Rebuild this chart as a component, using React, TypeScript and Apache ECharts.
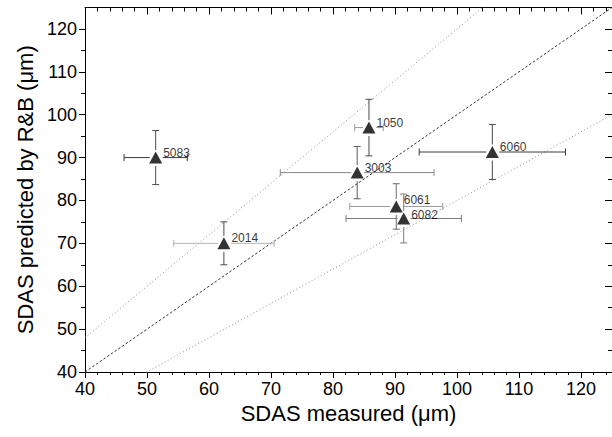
import React, { useEffect, useRef } from "react";
import * as echarts from "echarts";

// Alloy designations and SDAS values (μm)
const alloys = ["5083", "2014", "1050", "3003", "6061", "6082", "6060"];
const measured = [51.4, 62.4, 85.8, 83.9, 90.2, 91.4, 105.7];
const predicted = [90.0, 70.0, 97.0, 86.5, 78.6, 75.8, 91.3];
const measuredErr = [5.1, 8.1, 2.3, 12.4, 7.5, 9.3, 11.8];
const predictedErr = [6.3, 5.0, 6.6, 6.1, 5.3, 5.7, 6.4];

// Reference lines y = k·x
const refSlopes = [1.2, 1.0, 0.8];

// Axis ticks
const axisMin = 40;
const axisMax = 125;
const majorTicks = [40, 50, 60, 70, 80, 90, 100, 110, 120];
const xMinorTicks: number[] = [];
for (let v = 42; v < axisMax; v += 2) if (v % 10 !== 0) xMinorTicks.push(v);
const yMinorTicks = [45, 55, 65, 75, 85, 95, 105, 115];

// Error bar colours per alloy
const hBarColor: Record<string, string> = {
  "5083": "#3a3a3a",
  "2014": "#b4b4b4",
  "1050": "#9a9a9a",
  "3003": "#8a8a8a",
  "6061": "#9a9a9a",
  "6082": "#7a7a7a",
  "6060": "#3a3a3a",
};
const vBarColor: Record<string, string> = {
  "5083": "#4a4a4a",
  "2014": "#4a4a4a",
  "1050": "#4a4a4a",
  "3003": "#5a5a5a",
  "6061": "#6a6a6a",
  "6082": "#7a7a7a",
  "6060": "#4a4a4a",
};

// Label nudges for the two crowded points
const labelOffset: Record<string, number[]> = {
  "6061": [0, -6.5],
  "6082": [0, -3.5],
};

const FONT = "Arial, 'Liberation Sans', sans-serif";

export default function App() {
  const ref = useRef<HTMLDivElement>(null);

  useEffect(() => {
    if (!ref.current) return;
    const chart = echarts.init(ref.current, undefined, { renderer: "svg" });

    const baseAxis = {
      min: axisMin,
      max: axisMax,
      splitLine: { show: false },
      minorTick: { show: false },
      minorSplitLine: { show: false },
    };
    const lineStyle = { color: "#000", width: 1 };

    const xAxes = [
      {
        ...baseAxis,
        type: "value",
        position: "bottom",
        name: "SDAS measured (μm)",
        nameLocation: "middle",
        nameGap: 28,
        nameTextStyle: { fontFamily: FONT, fontSize: 22, color: "#000" },
        axisLine: { show: true, lineStyle },
        axisTick: { show: true, inside: false, length: 6, customValues: majorTicks, lineStyle },
        axisLabel: { show: true, margin: 8, customValues: majorTicks, fontFamily: FONT, fontSize: 18, color: "#000" },
      },
      {
        ...baseAxis,
        type: "value",
        position: "bottom",
        axisLine: { show: false },
        axisTick: { show: true, inside: false, length: 3, customValues: xMinorTicks, lineStyle },
        axisLabel: { show: false },
      },
      {
        ...baseAxis,
        type: "value",
        position: "top",
        axisLine: { show: true, lineStyle },
        axisTick: { show: true, inside: true, length: 7, customValues: majorTicks, lineStyle },
        axisLabel: { show: false },
      },
      {
        ...baseAxis,
        type: "value",
        position: "top",
        axisLine: { show: false },
        axisTick: { show: true, inside: true, length: 4, customValues: xMinorTicks, lineStyle },
        axisLabel: { show: false },
      },
    ];

    const yAxes = [
      {
        ...baseAxis,
        type: "value",
        position: "left",
        name: "SDAS predicted by R&B (μm)",
        nameLocation: "middle",
        nameGap: 44,
        nameTextStyle: { fontFamily: FONT, fontSize: 22, color: "#000" },
        axisLine: { show: true, lineStyle },
        axisTick: { show: true, inside: false, length: 6, customValues: majorTicks, lineStyle },
        axisLabel: { show: true, margin: 8, customValues: majorTicks, fontFamily: FONT, fontSize: 18, color: "#000" },
      },
      {
        ...baseAxis,
        type: "value",
        position: "left",
        axisLine: { show: false },
        axisTick: { show: true, inside: false, length: 4, customValues: yMinorTicks, lineStyle },
        axisLabel: { show: false },
      },
      {
        ...baseAxis,
        type: "value",
        position: "right",
        axisLine: { show: true, lineStyle },
        axisTick: { show: true, inside: true, length: 7, customValues: majorTicks, lineStyle },
        axisLabel: { show: false },
      },
      {
        ...baseAxis,
        type: "value",
        position: "right",
        axisLine: { show: false },
        axisTick: { show: true, inside: true, length: 4, customValues: yMinorTicks, lineStyle },
        axisLabel: { show: false },
      },
    ];

    const refStyles = [
      { color: "#8c8c8c", type: [1, 2.5] },
      { color: "#333333", type: [2.5, 2] },
      { color: "#8c8c8c", type: [1, 2.5] },
    ];

    const refSeries = refSlopes.map((k, i) => ({
      type: "line",
      data: [
        [axisMin, axisMin * k],
        [axisMax, axisMax * k],
      ],
      symbol: "none",
      clip: true,
      silent: true,
      z: 1,
      lineStyle: { width: 1, color: refStyles[i].color, type: refStyles[i].type },
    }));

    const errData = alloys.map((name, i) => ({
      name,
      value: [measured[i], predicted[i], measuredErr[i], predictedErr[i]],
    }));

    const CAP = 3.5;
    const errSeries = {
      type: "custom",
      z: 2,
      silent: true,
      data: errData,
      encode: { x: 0, y: 1 },
      renderItem: (params: any, api: any) => {
        const x = api.value(0);
        const y = api.value(1);
        const ex = api.value(2);
        const ey = api.value(3);
        const name = alloys[params.dataIndex];
        const c = api.coord([x, y]);
        const l = api.coord([x - ex, y])[0];
        const r = api.coord([x + ex, y])[0];
        const t = api.coord([x, y + ey])[1];
        const b = api.coord([x, y - ey])[1];
        const hs = { stroke: hBarColor[name], lineWidth: 1 };
        const vs = { stroke: vBarColor[name], lineWidth: 1 };
        const seg = (x1: number, y1: number, x2: number, y2: number, style: any) => ({
          type: "line",
          shape: { x1, y1, x2, y2 },
          style,
        });
        return {
          type: "group",
          children: [
            // horizontal bar, broken around the marker
            seg(l, c[1], c[0] - 6, c[1], hs),
            seg(c[0] + 7, c[1], r, c[1], hs),
            seg(l, c[1] - CAP, l, c[1] + CAP, hs),
            seg(r, c[1] - CAP, r, c[1] + CAP, hs),
            // vertical bar, broken around the marker
            seg(c[0], t, c[0], c[1] - 7.5, vs),
            seg(c[0], c[1] + 8.5, c[0], b, vs),
            seg(c[0] - CAP, t, c[0] + CAP, t, vs),
            seg(c[0] - CAP, b, c[0] + CAP, b, vs),
          ],
        };
      },
    };

    const pointSeries = {
      type: "scatter",
      z: 3,
      symbol: "triangle",
      symbolSize: [13, 12],
      itemStyle: { color: "#000" },
      data: alloys.map((name, i) => ({
        name,
        value: [measured[i], predicted[i]],
        label: { offset: labelOffset[name] || [0, -5] },
      })),
      label: {
        show: true,
        position: "right",
        distance: 1,
        offset: [0, -5],
        formatter: "{b}",
        fontFamily: FONT,
        fontSize: 12,
        color: "#000",
      },
    };

    chart.setOption({
      animation: false,
      backgroundColor: "#fff",
      grid: { left: 85, top: 7.5, right: -1, bottom: 65 },
      xAxis: xAxes,
      yAxis: yAxes,
      series: [...refSeries, errSeries, pointSeries],
    } as any);

    return () => chart.dispose();
  }, []);

  return (
    <div
      ref={ref}
      style={{ position: "absolute", left: 0, top: 0, width: 612, height: 437 }}
    />
  );
}
